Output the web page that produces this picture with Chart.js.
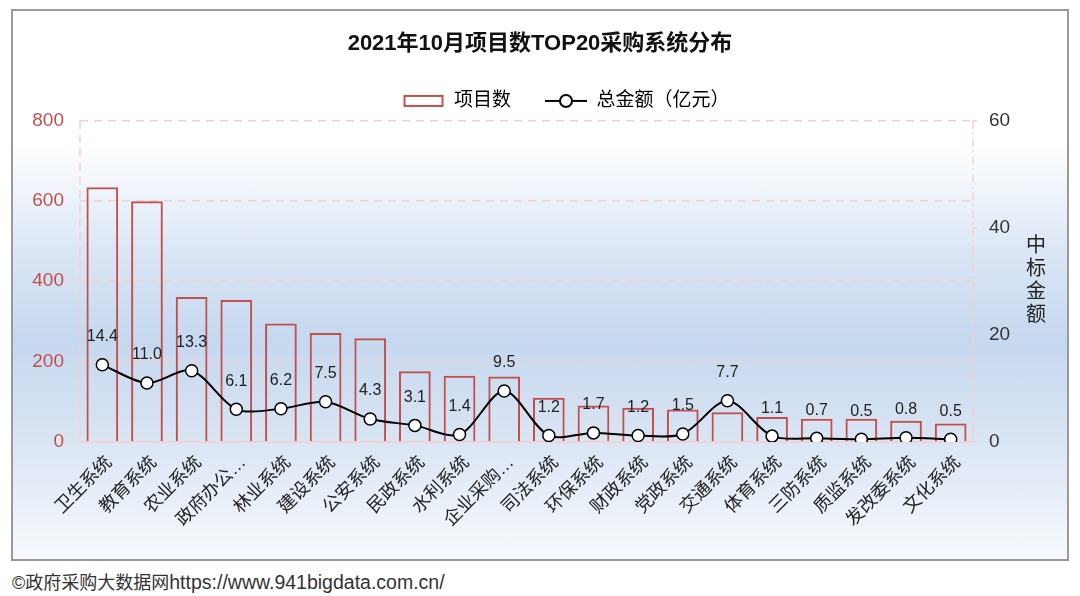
<!DOCTYPE html>
<html>
<head>
<meta charset="utf-8">
<script src="https://cdn.jsdelivr.net/npm/chart.js@4"></script>
<style>
  body { margin: 0; background: #fff; width: 1080px; height: 596px; position: relative; overflow: hidden; }
  #frame {
    position: absolute; left: 11px; top: 9px; width: 1058px; height: 552px;
    box-sizing: border-box; border: 2px solid #9a9a9a;
    background: linear-gradient(to bottom, #ffffff 0%, #ffffff 24%, #dbe6f5 44%, #c6d8ef 60%, #d6e2f2 75%, #e8eff8 89%, #f6f9fc 100%);
  }
  #footer {
    position: absolute; left: 12px; top: 568px;
    font: 18px "Liberation Sans", "Noto Sans CJK SC", sans-serif; color: #333;
  }
  #footer span { font-size: 19.5px; }
</style>
</head>
<body>
<div id="frame"><canvas id="topChart" width="1054" height="548"></canvas></div>
<div id="footer">©政府采购大数据网<span>https://www.941bigdata.com.cn/</span></div>
<script>
const systemNames = ["卫生系统", "教育系统", "农业系统", "政府办公系统", "林业系统", "建设系统", "公安系统",
  "民政系统", "水利系统", "企业采购系统", "司法系统", "环保系统", "财政系统", "党政系统", "交通系统",
  "体育系统", "三防系统", "质监系统", "发改委系统", "文化系统"];
const projectCounts = [634, 599, 361, 353, 295, 271, 258, 176, 165, 163, 110, 91, 85, 81, 74, 62, 58, 58, 53, 46];
const totalAmounts = [14.4, 11.0, 13.3, 6.1, 6.2, 7.5, 4.3, 3.1, 1.4, 9.5, 1.2, 1.7, 1.2, 1.5, 7.7, 1.1, 0.7, 0.5, 0.8, 0.5];
const leftTicks = [0, 200, 400, 600, 800];
const rightTicks = [0, 20, 40, 60];

const barRed = "#c0504d";
const gridPink = "#f3d0d0";
const fontFamily = '"Liberation Sans", "Noto Sans CJK SC", sans-serif';

// legend swatches
function makeSwatch(kind) {
  let c = document.createElement("canvas");
  c.width = 42;
  c.height = 16;
  let ctx = c.getContext("2d");
  if (kind === "bar") {
    ctx.strokeStyle = barRed;
    ctx.lineWidth = 2;
    ctx.strokeRect(2, 3, 38, 10);
  } else {
    ctx.strokeStyle = "#000";
    ctx.lineWidth = 2;
    ctx.beginPath();
    ctx.moveTo(0, 8);
    ctx.lineTo(42, 8);
    ctx.stroke();
    ctx.beginPath();
    ctx.arc(21, 8, 6, 0, Math.PI * 2);
    ctx.fillStyle = "#fff";
    ctx.fill();
    ctx.stroke();
  }
  return c;
}

const valueLabels = {
  id: "valueLabels",
  afterDatasetsDraw(chart) {
    let ctx = chart.ctx;
    let meta = chart.getDatasetMeta(1);
    ctx.save();
    ctx.font = "16px " + fontFamily;
    ctx.fillStyle = "#222";
    ctx.textAlign = "center";
    ctx.textBaseline = "middle";
    meta.data.forEach((pt, i) => {
      ctx.fillText(totalAmounts[i].toFixed(1), pt.x, pt.y - 28);
    });
    ctx.restore();
  },
};

// dashed side borders of the plot + stacked right axis title
const frameExtras = {
  id: "frameExtras",
  afterLayout(chart) {
    chart.legend.left += 26;
    chart.legend.right += 26;
  },
  beforeDatasetsDraw(chart) {
    let ctx = chart.ctx;
    let area = chart.chartArea;
    ctx.save();
    ctx.strokeStyle = gridPink;
    ctx.lineWidth = 1.5;
    ctx.setLineDash([8, 6]);
    ctx.beginPath();
    ctx.moveTo(area.left, area.top);
    ctx.lineTo(area.left, area.bottom);
    ctx.stroke();
    ctx.setLineDash([8, 4, 2, 4]);
    ctx.beginPath();
    ctx.moveTo(area.right, area.top);
    ctx.lineTo(area.right, area.bottom);
    ctx.stroke();
    ctx.restore();
  },
  afterDraw(chart) {
    let ctx = chart.ctx;
    let area = chart.chartArea;
    let chars = "中标金额".split("");
    ctx.save();
    ctx.font = "20px " + fontFamily;
    ctx.fillStyle = "#222";
    ctx.textAlign = "center";
    ctx.textBaseline = "middle";
    let mid = (area.top + area.bottom) / 2;
    chars.forEach((ch, i) => {
      ctx.fillText(ch, 1023, mid + (i - 1.5) * 23);
    });
    ctx.restore();
  },
};

new Chart(document.getElementById("topChart").getContext("2d"), {
  type: "bar",
  data: {
    labels: systemNames,
    datasets: [
      {
        type: "bar",
        label: "项目数",
        data: projectCounts,
        yAxisID: "yLeft",
        backgroundColor: "rgba(255,255,255,0)",
        borderColor: barRed,
        borderWidth: 2,
        barPercentage: 0.71,
        categoryPercentage: 1,
        order: 2,
      },
      {
        type: "line",
        label: "总金额（亿元）",
        data: totalAmounts,
        yAxisID: "yRight",
        borderColor: "#000",
        borderWidth: 2,
        tension: 0.3,
        pointRadius: 6,
        pointBorderWidth: 1.5,
        pointBackgroundColor: "#fff",
        pointBorderColor: "#000",
        order: 1,
      },
    ],
  },
  options: {
    responsive: false,
    animation: false,
    layout: { padding: 0 },
    plugins: {
      title: {
        display: true,
        text: "2021年10月项目数TOP20采购系统分布",
        color: "#111",
        font: { family: fontFamily, size: 22, weight: "bold" },
        padding: { top: 20, bottom: 0 },
      },
      legend: {
        display: true,
        labels: {
          color: "#222",
          font: { family: fontFamily, size: 19 },
          usePointStyle: true,
          pointStyleWidth: 42,
          boxHeight: 16,
          padding: 34,
          generateLabels: () => [
            { text: "项目数", pointStyle: makeSwatch("bar"), datasetIndex: 0, lineWidth: 0 },
            { text: "总金额（亿元）", pointStyle: makeSwatch("line"), datasetIndex: 1, lineWidth: 0 },
          ],
        },
      },
      tooltip: { enabled: false },
    },
    scales: {
      x: {
        grid: { display: false },
        border: { color: gridPink, width: 1.5 },
        ticks: {
          color: "#222",
          font: { family: fontFamily, size: 18 },
          minRotation: 45,
          maxRotation: 45,
          autoSkip: false,
          padding: 2,
          labelOffset: 7,
          callback: function (value) {
            let name = systemNames[value];
            return name.length > 5 ? name.slice(0, 4) + "…" : name;
          },
        },
        afterFit: (scale) => { scale.height = 117; },
      },
      yLeft: {
        position: "left",
        min: 0,
        max: 800,
        afterBuildTicks: (scale) => { scale.ticks = leftTicks.map((v) => ({ value: v })); },
        grid: { color: gridPink, lineWidth: 1.5, drawTicks: false },
        border: { display: false, dash: [8, 6] },
        ticks: { color: barRed, font: { family: fontFamily, size: 19 }, padding: 16 },
        afterFit: (scale) => { scale.width = 67; },
      },
      yRight: {
        position: "right",
        min: 0,
        max: 60,
        afterBuildTicks: (scale) => { scale.ticks = rightTicks.map((v) => ({ value: v })); },
        grid: { drawOnChartArea: false, color: gridPink, lineWidth: 1.5, tickLength: 6, tickBorderDash: [4, 3] },
        border: { display: false },
        ticks: { color: "#333", font: { family: fontFamily, size: 19 }, padding: 10 },
        afterFit: (scale) => { scale.width = 94; },
      },
    },
  },
  plugins: [valueLabels, frameExtras],
});
</script>
</body>
</html>
